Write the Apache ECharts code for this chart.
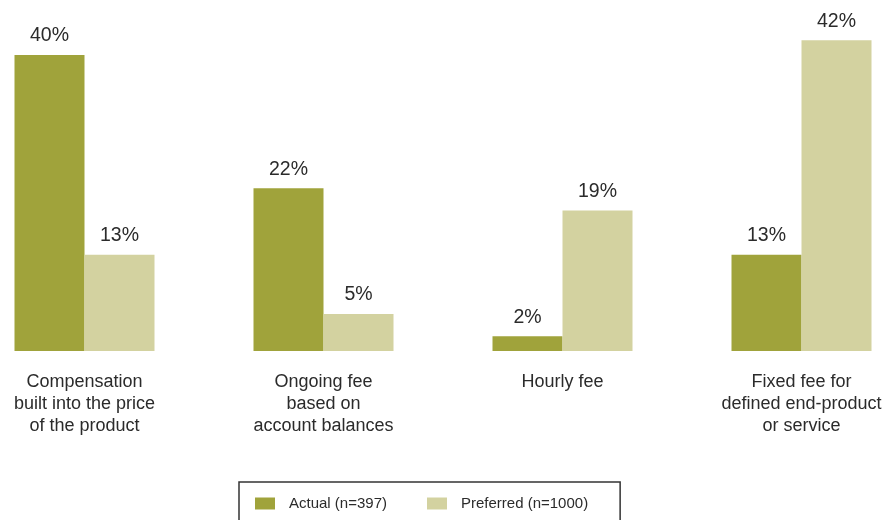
<!DOCTYPE html>
<html>
<head>
<meta charset="utf-8">
<script src="https://cdn.jsdelivr.net/npm/echarts@6/dist/echarts.min.js"></script>
<style>
  html, body { margin: 0; padding: 0; background: #fff; }
  #chart { width: 886px; height: 520px; }
</style>
</head>
<body>
<div id="chart"></div>
<script>
// Fee structures: actual vs preferred compensation method (%)
const categories = [
  'Compensation\nbuilt into the price\nof the product',
  'Ongoing fee\nbased on\naccount balances',
  'Hourly fee',
  'Fixed fee for\ndefined end-product\nor service'
];
const actualValues = [40, 22, 2, 13];
const preferredValues = [13, 5, 19, 42];
const seriesNames = ['Actual (n=397)', 'Preferred (n=1000)'];

const FONT = '"Liberation Sans", Arial, sans-serif';
const TEXT = '#2b2b2b';

const chart = echarts.init(document.getElementById('chart'), null, { renderer: 'canvas' });

const labelStyle = {
  show: true,
  position: 'top',
  distance: 9,
  formatter: '{c}%',
  fontFamily: FONT,
  fontSize: 19.5,
  color: TEXT
};

chart.setOption({
  animation: false,
  backgroundColor: '#ffffff',
  // group centres sit on the category ticks (boundaryGap off)
  grid: { left: 84.5, right: 84.5, top: 18, bottom: 169, containLabel: false },
  xAxis: {
    type: 'category',
    data: categories,
    boundaryGap: false,
    axisLine: { show: false },
    axisTick: { show: false },
    splitLine: { show: false },
    axisLabel: {
      margin: 20,
      fontFamily: FONT,
      fontSize: 18,
      lineHeight: 22,
      color: TEXT,
      interval: 0
    }
  },
  yAxis: {
    type: 'value',
    min: 0,
    max: 45,
    show: false,
    splitLine: { show: false }
  },
  legend: {
    left: 239,
    top: 482,
    padding: [14, 32, 22, 16],
    borderColor: '#333',
    borderWidth: 1.5,
    itemWidth: 20,
    itemHeight: 12,
    itemGap: 40,
    icon: 'rect',
    textStyle: { fontFamily: FONT, fontSize: 15, color: TEXT, padding: [0, 0, 0, 9] },
    data: seriesNames
  },
  series: [
    {
      name: seriesNames[0],
      type: 'bar',
      data: actualValues,
      barWidth: 70,
      barGap: '0%',
      itemStyle: { color: '#a0a33b' },
      label: labelStyle
    },
    {
      name: seriesNames[1],
      type: 'bar',
      data: preferredValues,
      barWidth: 70,
      barGap: '0%',
      itemStyle: { color: '#d3d2a0' },
      label: labelStyle
    }
  ]
});
</script>
</body>
</html>
